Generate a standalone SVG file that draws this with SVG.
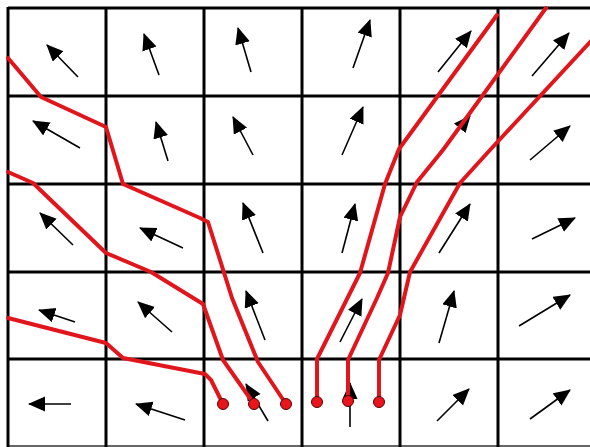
<svg xmlns="http://www.w3.org/2000/svg" width="590" height="447" viewBox="0 0 590 447">
<style>
.grid{stroke:#000;stroke-width:3;fill:none}
.arr{stroke:#000;stroke-width:1.6;fill:none;marker-end:url(#ah)}
.path{stroke:#e0161c;stroke-width:4;fill:none;stroke-linejoin:round;stroke-linecap:round}
.dot{fill:#e8161c;stroke:#5a0000;stroke-width:1}
</style>
<defs>
<marker id="ah" markerUnits="userSpaceOnUse" markerWidth="20" markerHeight="18" refX="16" refY="7.5" orient="auto">
<path d="M0,0 L17,7.5 L0,15 z" fill="#000"/>
</marker>
</defs>
<rect width="590" height="447" fill="#fff"/>
<g id="grid" class="grid">
<line x1="8" y1="8" x2="590" y2="8"/>
<line x1="8" y1="96" x2="590" y2="96"/>
<line x1="8" y1="184" x2="590" y2="184"/>
<line x1="8" y1="272" x2="590" y2="272"/>
<line x1="8" y1="359" x2="590" y2="359"/>
<line x1="8" y1="446" x2="590" y2="446" stroke="#666" stroke-width="2"/>
<line x1="8" y1="7" x2="8" y2="447"/>
<line x1="106" y1="7" x2="106" y2="447"/>
<line x1="204" y1="7" x2="204" y2="447"/>
<line x1="302" y1="7" x2="302" y2="447"/>
<line x1="400" y1="7" x2="400" y2="447"/>
<line x1="498" y1="7" x2="498" y2="447"/>
</g>
<g id="arrows">
<line class="arr" x1="78" y1="77" x2="47" y2="45"/>
<line class="arr" x1="159" y1="75" x2="144" y2="34"/>
<line class="arr" x1="251" y1="72" x2="238" y2="28"/>
<line class="arr" x1="353" y1="68" x2="370" y2="20"/>
<line class="arr" x1="438" y1="72" x2="471" y2="31"/>
<line class="arr" x1="532" y1="76" x2="569" y2="33"/>

<line class="arr" x1="80" y1="148" x2="33" y2="121"/>
<line class="arr" x1="168" y1="161" x2="156" y2="122"/>
<line class="arr" x1="253" y1="155" x2="233" y2="117"/>
<line class="arr" x1="342" y1="155" x2="363" y2="107"/>
<line class="arr" x1="440" y1="152" x2="470" y2="116"/>
<line class="arr" x1="530" y1="160" x2="570" y2="126"/>

<line class="arr" x1="73" y1="245" x2="40" y2="213"/>
<line class="arr" x1="183" y1="248" x2="140" y2="228"/>
<line class="arr" x1="263" y1="253" x2="243" y2="203"/>
<line class="arr" x1="342" y1="253" x2="355" y2="204"/>
<line class="arr" x1="439" y1="253" x2="470" y2="204"/>
<line class="arr" x1="532" y1="239" x2="575" y2="218"/>

<line class="arr" x1="75" y1="322" x2="39" y2="310"/>
<line class="arr" x1="172" y1="332" x2="138" y2="302"/>
<line class="arr" x1="265" y1="340" x2="246" y2="291"/>
<line class="arr" x1="340" y1="342" x2="362" y2="299"/>
<line class="arr" x1="439" y1="343" x2="454" y2="291"/>
<line class="arr" x1="519" y1="326" x2="570" y2="295"/>

<line class="arr" x1="71" y1="404" x2="29" y2="404"/>
<line class="arr" x1="185" y1="420" x2="136" y2="404"/>
<line class="arr" x1="268" y1="421" x2="246" y2="384"/>
<line class="arr" x1="350" y1="427" x2="350" y2="383"/>
<line class="arr" x1="437" y1="421" x2="469" y2="389"/>
<line class="arr" x1="530" y1="419" x2="570" y2="390"/>
</g>
<g id="connectors">
<path class="path" d="M8,318 L106,343 L123,358 L205,374 L211,380 L223,404"/>
<path class="path" d="M8,172 L33,183 L106,253 L151,272 L203,304 L223,360 L254,404"/>
<path class="path" d="M8,58 L41,97 L106,127 L123,184 L200,218 L208,222 L232,298 L258,362 L286,404"/>
<path class="path" d="M317,402 L317,359 L360,273 L385,184 L399,149 L497,15"/>
<path class="path" d="M348,401 L348,360 L377,298 L388,273 L400,217 L417,182 L443,150 L546,8"/>
<path class="path" d="M379,402 L379,360 L400,315 L410,272 L460,183 L490,150 L592,40"/>
</g>
<g id="dots">
<circle class="dot" cx="223" cy="404" r="5.5"/>
<circle class="dot" cx="254" cy="404" r="5.5"/>
<circle class="dot" cx="286" cy="404" r="5.5"/>
<circle class="dot" cx="317" cy="402" r="5.5"/>
<circle class="dot" cx="348" cy="401" r="5.5"/>
<circle class="dot" cx="379" cy="402" r="5.5"/>
</g>
</svg>
